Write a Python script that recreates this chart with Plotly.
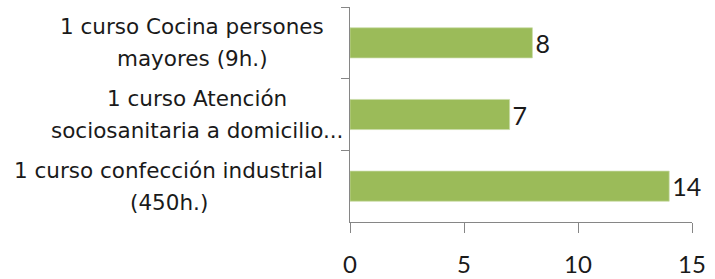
import plotly.graph_objects as go

categories = [
    "1 curso Cocina persones<br>mayores (9h.)",
    "1 curso Atención<br>sociosanitaria a domicilio...",
    "1 curso confección industrial<br>(450h.)",
]
values = [8, 7, 14]
x_ticks = [0, 5, 10, 15]

W, H = 715, 279
ML, MR, MT, MB = 350, 23, 7, 57
PW = W - ML - MR
label_center_px = [192, 197, 169]
LINE_GAP = 32

LABEL_FONT = "DejaVu Sans"
NUM_FONT = "Lato"
TXT = "#1a1a1a"
AX = "#868686"

fig = go.Figure(go.Bar(
    x=values, y=categories, orientation="h",
    marker=dict(color="#9BBB59", line=dict(color="#c9dba6", width=0.7)),
    text=[str(v) for v in values], textposition="outside",
    textfont=dict(family=NUM_FONT, size=25, color=TXT),
    cliponaxis=False, width=0.42,
))

annotations = []
for cat, cpx in zip(categories, label_center_px):
    lines = cat.split("<br>")
    n = len(lines)
    for i, line in enumerate(lines):
        annotations.append(dict(
            text=line, x=(cpx - ML) / PW, xref="paper", y=cat, yref="y",
            xanchor="center", yanchor="middle", align="center", showarrow=False,
            yshift=((n - 1) / 2 - i) * LINE_GAP,
            font=dict(family=LABEL_FONT, size=21.5, color=TXT),
        ))

fig.update_layout(
    width=W, height=H, margin=dict(l=ML, r=MR, t=MT, b=MB),
    paper_bgcolor="white", plot_bgcolor="white", showlegend=False,
    annotations=annotations,
    xaxis=dict(range=[0, 15], tickvals=x_ticks, showgrid=False, zeroline=False,
               showline=True, linecolor=AX, linewidth=1, ticks="outside",
               ticklen=10, tickcolor=AX, ticklabelstandoff=11, automargin=False,
               tickfont=dict(family=NUM_FONT, size=24, color=TXT)),
    yaxis=dict(type="category", autorange="reversed", showticklabels=False,
               showgrid=False, zeroline=False, showline=True, linecolor=AX,
               linewidth=1, ticks="outside", ticklen=8, tickcolor=AX,
               tickson="boundaries", automargin=False),
)

fig.write_html("out.html", config={"displayModeBar": False},
               post_script="document.body.style.margin='0px';")
